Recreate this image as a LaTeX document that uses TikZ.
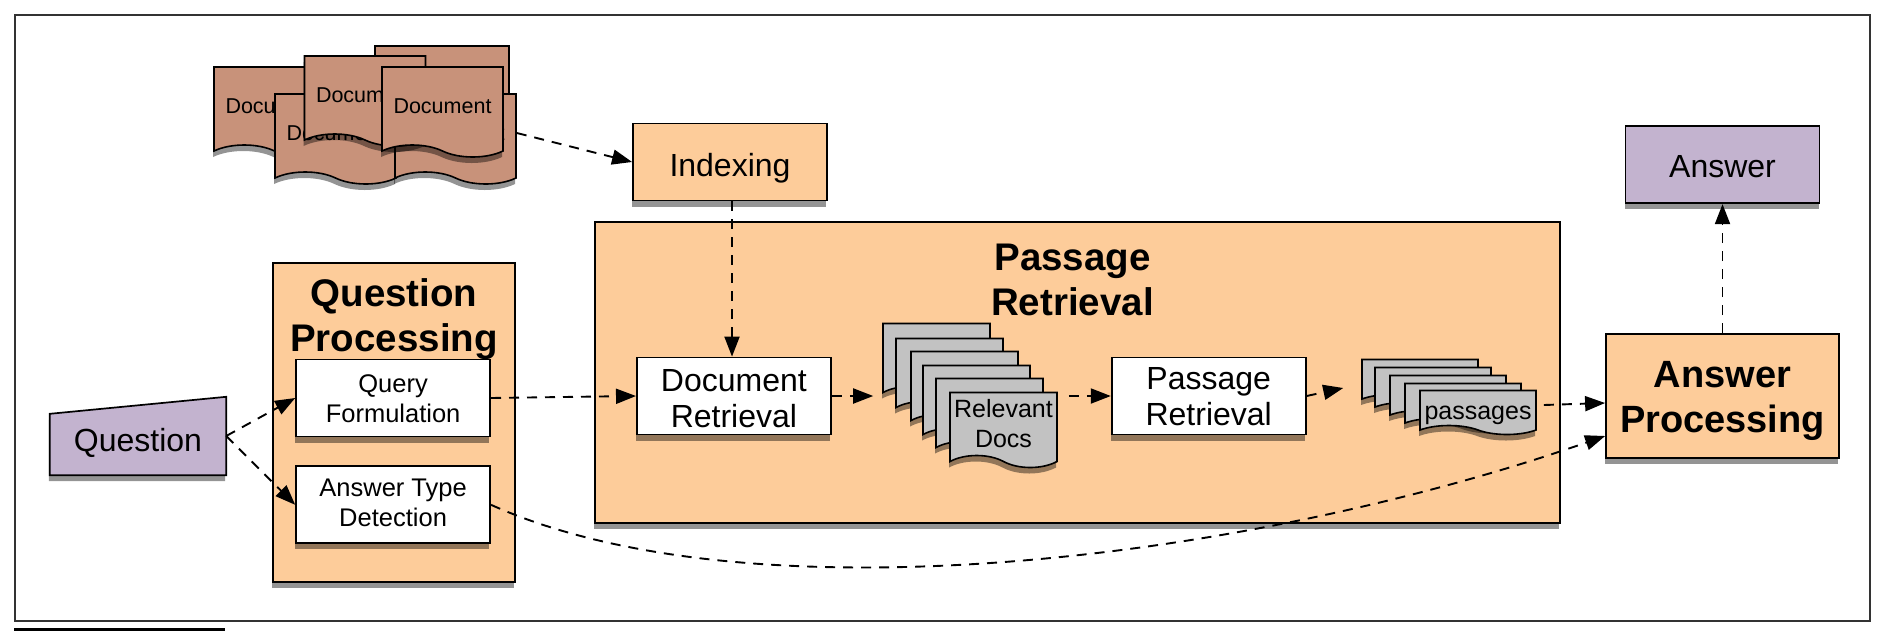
\documentclass[tikz,border=0pt]{standalone}
\usepackage{fontspec}
\setmainfont{Liberation Sans}
\usepackage{xcolor}
\usetikzlibrary{arrows.meta,positioning,shapes.symbols,shadows,backgrounds}

\definecolor{peach}{HTML}{FDCC9A}
\definecolor{mauve}{HTML}{C3B3CF}
\definecolor{clay}{HTML}{C8927A}
\definecolor{stack}{HTML}{C2C2C2}

% extra room above a first line, pushes the text down
\newcommand{\padtop}[1]{\rule{0pt}{#1}}

\begin{document}
\begin{tikzpicture}[
    x=1pt,
    y=-1pt,
    boxshadow/.style={drop shadow={shadow xshift=-1pt, shadow yshift=-6pt, fill=black, opacity=0.42}},
    panel/.style={
        rectangle,
        draw=black,
        line width=1.8pt,
        fill=peach,
        boxshadow
    },
    step box/.style={
        rectangle,
        draw=black,
        line width=1.8pt,
        align=center,
        fill=white,
        boxshadow,
        minimum width=194pt,
        minimum height=77pt,
        inner sep=0pt,
        font=\fontsize{32}{36}\selectfont
    },
    small box/.style={
        step box,
        font=\fontsize{25.5}{30}\selectfont
    },
    heading/.style={
        align=center,
        inner sep=0pt,
        font=\bfseries\fontsize{38.5}{45}\selectfont
    },
    sheet/.style={
        tape,
        tape bend top=none,
        tape bend bottom=out and in,
        tape bend height=12pt,
        draw=black,
        line width=1.6pt,
        align=center,
        inner sep=0pt,
        boxshadow
    },
    source doc/.style={
        sheet,
        fill=clay,
        minimum width=121pt,
        minimum height=90pt,
        font=\fontsize{21.5}{25}\selectfont
    },
    relevant doc/.style={
        sheet,
        fill=stack,
        minimum width=107pt,
        minimum height=75pt,
        font=\fontsize{25}{30}\selectfont
    },
    passage doc/.style={
        sheet,
        fill=stack,
        minimum width=116pt,
        minimum height=44pt,
        tape bend height=9pt,
        font=\fontsize{25}{30}\selectfont
    },
    arrow/.style={
        -{Triangle[length=20pt,width=15pt]},
        line width=1.9pt,
        dash pattern=on 10pt off 8pt
    }
]

\useasboundingbox (0,0) rectangle (1886,630);
\node[rectangle, draw=black!80, line width=1.5pt, minimum width=1855pt, minimum height=606pt] (frame) at (942.5,318) {};
\node[rectangle, fill=black, inner sep=0pt, minimum width=211pt, minimum height=3pt, below right=6pt and 0pt of frame.south west] (rule) {};

% source documents
\node[source doc] (doca) at (274.5,106) {Document};
\node[source doc, minimum width=134pt, minimum height=76pt] (docb) at (442,78) {};
\node[source doc] (docc) at (335.5,133) {Document};
\node[source doc] (docd) at (455.5,133) {Document};
\node[source doc] (doce) at (365,95) {Document};
\node[source doc] (docf) at (442.5,106) {Document};

\node[step box, fill=peach] (indexing) at (730,162) {\padtop{35pt}Indexing};

% panels
\node[panel, minimum width=242pt, minimum height=319pt] (questionbox) at (394,422.5) {};
\node[heading, below=16pt of questionbox.north] (questiontitle) {Question\\Processing};
\node[panel, minimum width=965pt, minimum height=301pt] (passagebox) at (1077.5,372.5) {};
\node[heading, below=23pt of passagebox.north, xshift=-5pt] (passagetitle) {Passage\\Retrieval};

% question side
\node[inner sep=0pt, minimum width=176pt, minimum height=78pt, font=\fontsize{32}{36}\selectfont] (question) at (138,436) {\padtop{37pt}Question\hspace{5pt}};
\begin{scope}[on background layer]
\draw[line width=1.7pt, fill=mauve, boxshadow] (question.south west) -- (question.south east) -- (question.north east) -- ([yshift=-17pt]question.north west) -- cycle;
\end{scope}
\node[small box, right=69pt of question, yshift=38pt] (formulation) {\padtop{20pt}Query\\Formulation};
\node[small box, below=28pt of formulation] (detection) {Answer Type\\Detection\rule[-5pt]{0pt}{5pt}};

% passage panel
\node[step box, right=145pt of formulation, yshift=2pt] (docretrieval) {\padtop{28pt}Document\\Retrieval};
\node[relevant doc] (rela) at (936.5,355) {};
\node[relevant doc, xshift=13pt, yshift=-15pt] (relb) at (rela) {};
\node[relevant doc, xshift=15pt, yshift=-13pt] (relc) at (relb) {};
\node[relevant doc, xshift=12pt, yshift=-14pt] (reld) at (relc) {};
\node[relevant doc, xshift=13pt, yshift=-13pt] (rele) at (reld) {};
\node[relevant doc, xshift=14pt, yshift=-14pt] (relf) at (rele) {Relevant\\Docs};
\node[step box, right=279pt of docretrieval] (passageret) {\padtop{24pt}Passage\\Retrieval};
\node[passage doc] (pasa) at (1420,377) {};
\node[passage doc, xshift=13pt, yshift=-8pt] (pasb) at (pasa) {};
\node[passage doc, xshift=15pt, yshift=-8pt] (pasc) at (pasb) {};
\node[passage doc, xshift=15pt, yshift=-8pt] (pasd) at (pasc) {};
\node[passage doc, xshift=15pt, yshift=-7pt] (pase) at (pasd) {\padtop{28pt}passages};

% answer side
\node[panel, minimum width=233pt, minimum height=124pt, align=center, inner sep=0pt, font=\bfseries\fontsize{38}{45}\selectfont] (answerproc) at (1722.5,396) {\padtop{36pt}Answer\\Processing};
\node[step box, fill=mauve, above=129pt of answerproc] (answer) {\padtop{26pt}Answer};

\draw[arrow] (docd.east) -- (indexing.west);
\draw[arrow] ([xshift=2pt]indexing.south) -- ([xshift=2pt]indexing.south |- docretrieval.north);
\draw[arrow] (question.east) -- (formulation.west);
\draw[arrow] (question.east) -- (detection.west);
\draw[arrow] (formulation.east) -- (docretrieval.west);
\draw[arrow, shorten >=9pt] (docretrieval.east) -- (docretrieval.east -| rela.west);
\draw[arrow, shorten <=11pt] (relf.east |- passageret.west) -- (passageret.west);
\draw[arrow] (passageret.east) -- ([xshift=-18pt,yshift=-11pt]pasa.west);
\draw[arrow] ([xshift=7pt,yshift=3pt]pase.east) -- ([yshift=-7pt]answerproc.west);
\draw[arrow] (detection.east) .. controls +(260,117) and +(-356,124) .. ([yshift=-40pt]answerproc.west);
\draw[arrow] (answerproc.north) -- (answer.south);

\end{tikzpicture}
\end{document}
